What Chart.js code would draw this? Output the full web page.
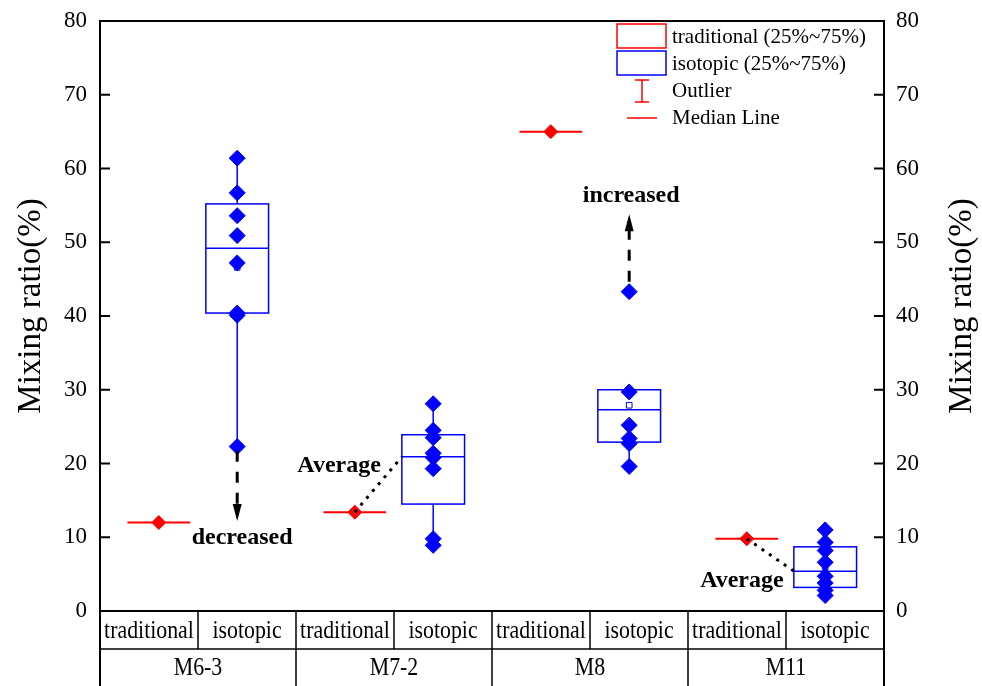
<!DOCTYPE html>
<html>
<head>
<meta charset="utf-8">
<script src="https://cdn.jsdelivr.net/npm/chart.js@4.4.1/dist/chart.umd.min.js"></script>
<style>
html, body { margin: 0; padding: 0; background: #fff; }
#wrap { width: 982px; height: 686px; }
</style>
</head>
<body>
<div id="wrap"><canvas id="boxChart"></canvas></div>
<script>
// data
const groups = ['M6-3', 'M7-2', 'M8', 'M11'];
const methods = ['traditional', 'isotopic'];
const traditional = [12.0, 13.4, 65.0, 9.8];
const isoQ1 = [40.4, 14.5, 22.9, 3.2];
const isoMedian = [49.2, 20.9, 27.3, 5.4];
const isoQ3 = [55.2, 23.9, 30.0, 8.7];
const isoLow = [22.4, 8.9, 19.6, 2.1];
const isoHigh = [61.4, 28.1, 30.0, 11.0];
const isoMean = [46.6, 19.5, 27.9, 6.0];
const isoPoints = [
  [61.4, 56.7, 53.6, 50.9, 47.2, 40.4, 40.1, 22.3],
  [28.1, 24.5, 23.5, 21.4, 20.8, 19.3, 9.8, 8.9],
  [43.3, 29.7, 25.2, 23.4, 22.7, 19.6],
  [11.0, 9.3, 8.2, 6.6, 4.7, 3.8, 2.8, 2.1]
];
const yTicks = [0, 10, 20, 30, 40, 50, 60, 70, 80];

// each group takes two slots on the x scale
const tradX = i => i * 2 + 0.6;
const isoX = i => i * 2 + 1.4;
const HALF = 0.32;

const FONT = "'Liberation Serif', 'Times New Roman', serif";
Chart.defaults.font.family = FONT;
Chart.defaults.color = '#000';

const tradData = traditional.map((v, i) => ({ x: tradX(i), y: v }));
const isoData = [];
isoPoints.forEach((arr, i) => arr.forEach(v => isoData.push({ x: isoX(i), y: v })));
const meanData = isoMean.map((v, i) => ({ x: isoX(i), y: v }));

function line(ctx, x1, y1, x2, y2) {
  ctx.beginPath();
  ctx.moveTo(x1, y1);
  ctx.lineTo(x2, y2);
  ctx.stroke();
}

function arrowHead(ctx, x, tipY, dir) {
  // dir: 1 = pointing down, -1 = pointing up
  ctx.beginPath();
  ctx.moveTo(x, tipY);
  ctx.lineTo(x - 4.5, tipY - dir * 17);
  ctx.lineTo(x + 4.5, tipY - dir * 17);
  ctx.closePath();
  ctx.fill();
}

const boxPlugin = {
  id: 'boxes',
  beforeDatasetsDraw(chart) {
    const { ctx, scales: { x, y } } = chart;
    ctx.save();
    groups.forEach((g, i) => {
      // isotopic box
      const xc = x.getPixelForValue(isoX(i));
      const xl = x.getPixelForValue(isoX(i) - HALF);
      const xr = x.getPixelForValue(isoX(i) + HALF);
      ctx.strokeStyle = '#0000ff';
      ctx.lineWidth = 1.5;
      line(ctx, xc, y.getPixelForValue(isoLow[i]), xc, y.getPixelForValue(isoQ1[i]));
      line(ctx, xc, y.getPixelForValue(isoQ3[i]), xc, y.getPixelForValue(isoHigh[i]));
      const top = y.getPixelForValue(isoQ3[i]);
      const bot = y.getPixelForValue(isoQ1[i]);
      ctx.strokeRect(xl, top, xr - xl, bot - top);
      const ym = y.getPixelForValue(isoMedian[i]);
      line(ctx, xl, ym, xr, ym);
      // traditional: single value, box collapses to a line
      const tl = x.getPixelForValue(tradX(i) - HALF);
      const tr = x.getPixelForValue(tradX(i) + HALF);
      const ty = y.getPixelForValue(traditional[i]);
      ctx.strokeStyle = '#ff0000';
      ctx.lineWidth = 2;
      line(ctx, tl, ty, tr, ty);
    });
    ctx.restore();
  },
  afterDraw(chart) {
    const { ctx, chartArea: ca, scales: { x, y } } = chart;
    const H = chart.height;
    ctx.save();
    ctx.strokeStyle = '#000';
    ctx.fillStyle = '#000';

    // frame top / bottom and inner ticks
    ctx.lineWidth = 2;
    line(ctx, ca.left, ca.top, ca.right, ca.top);
    line(ctx, ca.left, ca.bottom, ca.right, ca.bottom);
    yTicks.forEach(t => {
      const py = y.getPixelForValue(t);
      line(ctx, ca.left, py, ca.left + 10, py);
      line(ctx, ca.right - 10, py, ca.right, py);
    });

    // category table below the plot
    const rowMid = ca.bottom + 38;
    line(ctx, ca.left, ca.bottom, ca.left, H);
    line(ctx, ca.right, ca.bottom, ca.right, H);
    ctx.lineWidth = 1.5;
    line(ctx, ca.left, rowMid, ca.right, rowMid);
    for (let s = 1; s < groups.length * 2; s++) {
      const px = x.getPixelForValue(s);
      line(ctx, px, ca.bottom, px, s % 2 === 0 ? H : rowMid);
    }
    ctx.textAlign = 'center';
    ctx.textBaseline = 'middle';
    ctx.font = '26px ' + FONT;
    groups.forEach((g, i) => {
      methods.forEach((m, j) => {
        const px = x.getPixelForValue(i * 2 + j + 0.5);
        ctx.save();
        ctx.translate(px, (ca.bottom + rowMid) / 2 + 1);
        ctx.scale(0.84, 1);
        ctx.fillText(m, 0, 0);
        ctx.restore();
      });
      const gx = x.getPixelForValue(i * 2 + 1);
      ctx.save();
      ctx.translate(gx, (rowMid + H) / 2 + 1);
      ctx.scale(0.84, 1);
      ctx.fillText(g, 0, 0);
      ctx.restore();
    });

    // axis titles, both reading bottom to top
    ctx.font = '33px ' + FONT;
    const ty = (ca.top + ca.bottom) / 2 - 10;
    [31, 962].forEach(px => {
      ctx.save();
      ctx.translate(px, ty);
      ctx.rotate(-Math.PI / 2);
      ctx.fillText('Mixing ratio(%)', 0, 0);
      ctx.restore();
    });

    // legend
    const lx = ca.right - 267;
    ctx.font = '21px ' + FONT;
    ctx.textAlign = 'left';
    ctx.lineWidth = 1.5;
    ctx.strokeStyle = '#ff0000';
    ctx.strokeRect(lx, ca.top + 3, 49, 24);
    ctx.strokeStyle = '#0000ff';
    ctx.strokeRect(lx, ca.top + 30, 49, 24);
    ctx.strokeStyle = '#ff0000';
    const ox = lx + 25;
    line(ctx, ox, ca.top + 59, ox, ca.top + 81);
    line(ctx, ox - 7, ca.top + 59, ox + 7, ca.top + 59);
    line(ctx, ox - 7, ca.top + 81, ox + 7, ca.top + 81);
    line(ctx, lx + 10, ca.top + 97, lx + 40, ca.top + 97);
    const tx = lx + 55;
    ctx.fillText('traditional (25%~75%)', tx, ca.top + 16);
    ctx.fillText('isotopic (25%~75%)', tx, ca.top + 43);
    ctx.fillText('Outlier', tx, ca.top + 70);
    ctx.fillText('Median Line', tx, ca.top + 97);

    // annotations
    ctx.strokeStyle = '#000';
    ctx.fillStyle = '#000';
    ctx.font = 'bold 24px ' + FONT;
    ctx.textAlign = 'center';
    ctx.lineWidth = 3;
    // decreased (M6-3)
    let ax = x.getPixelForValue(isoX(0));
    ctx.setLineDash([11, 10]);
    line(ctx, ax, y.getPixelForValue(isoLow[0]) + 5, ax, y.getPixelForValue(13.5));
    ctx.setLineDash([]);
    arrowHead(ctx, ax, y.getPixelForValue(12.2), 1);
    ctx.fillText('decreased', x.getPixelForValue(1.45), y.getPixelForValue(9.9));
    // increased (M8)
    ax = x.getPixelForValue(isoX(2));
    ctx.setLineDash([11, 10]);
    line(ctx, ax, y.getPixelForValue(isoPoints[2][0]) - 10, ax, y.getPixelForValue(52));
    ctx.setLineDash([]);
    arrowHead(ctx, ax, y.getPixelForValue(53.8), -1);
    ctx.fillText('increased', x.getPixelForValue(5.42), y.getPixelForValue(56.3));
    // averages
    ctx.setLineDash([3, 6]);
    line(ctx, x.getPixelForValue(tradX(1)), y.getPixelForValue(traditional[1]),
         x.getPixelForValue(isoX(1) - HALF), y.getPixelForValue(isoMedian[1]));
    line(ctx, x.getPixelForValue(tradX(3)), y.getPixelForValue(traditional[3]),
         x.getPixelForValue(isoX(3) - HALF), y.getPixelForValue(isoMedian[3]));
    ctx.setLineDash([]);
    ctx.fillText('Average', x.getPixelForValue(2.44), y.getPixelForValue(19.7));
    ctx.fillText('Average', x.getPixelForValue(6.55), y.getPixelForValue(4.1));
    ctx.restore();
  }
};

const ctx = document.getElementById('boxChart').getContext('2d');
const myChart = new Chart(ctx, {
  type: 'scatter',
  data: {
    datasets: [
      {
        label: 'isotopic mean',
        data: meanData,
        pointStyle: 'rect',
        radius: 4,
        backgroundColor: '#ffffff',
        borderColor: '#0000ff',
        borderWidth: 1,
        order: 3
      },
      {
        label: 'isotopic',
        data: isoData,
        pointStyle: 'rectRot',
        radius: 8,
        backgroundColor: '#0000ff',
        borderColor: '#0000ff',
        borderWidth: 1,
        order: 2
      },
      {
        label: 'traditional',
        data: tradData,
        pointStyle: 'rectRot',
        radius: 7,
        backgroundColor: '#ff0000',
        borderColor: '#ff0000',
        borderWidth: 1,
        order: 1
      }
    ]
  },
  options: {
    responsive: true,
    maintainAspectRatio: false,
    animation: false,
    layout: { padding: { top: 21, bottom: 75, left: 0, right: 0 } },
    plugins: { legend: { display: false }, tooltip: { enabled: false } },
    scales: {
      x: { type: 'linear', min: 0, max: groups.length * 2, display: false },
      y: {
        position: 'left', min: 0, max: 80,
        afterFit: s => { s.width = 100; s.paddingTop = 0; s.paddingBottom = 0; },
        ticks: { stepSize: 10, padding: 13, font: { size: 23 } },
        grid: { display: false, drawTicks: false },
        border: { display: true, color: '#000', width: 2 }
      },
      y2: {
        position: 'right', min: 0, max: 80,
        afterFit: s => { s.width = 98; s.paddingTop = 0; s.paddingBottom = 0; },
        ticks: { stepSize: 10, padding: 12, font: { size: 23 } },
        grid: { display: false, drawTicks: false },
        border: { display: true, color: '#000', width: 2 }
      }
    }
  },
  plugins: [boxPlugin]
});
</script>
</body>
</html>
